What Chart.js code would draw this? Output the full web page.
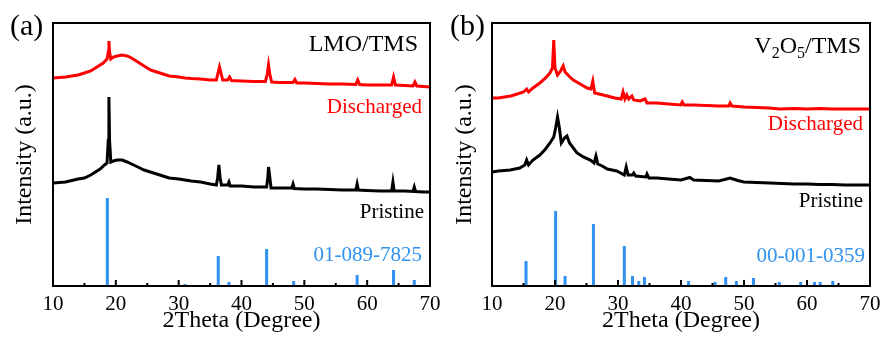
<!DOCTYPE html>
<html>
<head>
<meta charset="utf-8">
<script src="https://cdn.jsdelivr.net/npm/chart.js@4.4.0/dist/chart.umd.min.js"></script>
<style>
  html, body { margin: 0; padding: 0; background: #fff; }
  #wrap { position: relative; width: 881px; height: 338px; }
  #ca { position: absolute; left: 0; top: 0; }
  #cb { position: absolute; left: 440px; top: 0; }
</style>
</head>
<body>
<div id="wrap">
  <canvas id="ca" width="441" height="338"></canvas>
  <canvas id="cb" width="441" height="338"></canvas>
</div>
<script>
// ── Panel (a) : LMO/TMS ────────────────────────────────────────────────
const A_DIS_X = [10, 12, 14, 15, 16, 17, 18, 18.6, 18.8, 18.9, 19.0, 19.2, 19.6, 20.2, 21.0, 21.8, 22.5, 23.5, 24.5, 25.5, 26.5, 27.5, 28.5, 30, 31, 32, 33.5, 35, 36.0, 36.3, 36.5, 36.7, 37.0, 37.8, 38.1, 38.4, 40, 42, 43.8, 44.1, 44.3, 44.5, 44.8, 46, 48.2, 48.5, 48.8, 50, 52, 54, 56, 58.2, 58.5, 58.8, 60, 62, 63.9, 64.2, 64.5, 66, 67.3, 67.6, 67.9, 69, 70];
const A_DIS_Y = [208, 209, 211, 213, 215, 219, 223, 227, 234, 245, 234, 227, 229, 230, 231, 230, 228, 224, 220, 216, 214, 212, 210, 209, 208, 207.5, 207, 206, 206, 214, 219, 214, 206, 206, 209, 205.5, 205, 204.5, 204.5, 212, 221, 212, 204, 203.5, 203.5, 206.5, 203, 203, 202.5, 202, 202, 201.5, 206, 201.5, 201, 201, 201, 209, 201, 200.5, 200, 204, 200, 199.5, 199];

const A_PRI_X = [10, 12, 14, 15, 16, 17, 17.5, 18.2, 18.6, 18.8, 18.9, 19.0, 19.2, 19.6, 20.2, 21.0, 21.8, 22.5, 23.5, 24.5, 25.5, 26.5, 27.5, 28.5, 30, 31, 32, 33.5, 35, 36.0, 36.2, 36.4, 36.6, 36.8, 37.8, 38.0, 38.2, 40, 42, 44.0, 44.2, 44.3, 44.5, 44.7, 46, 48.0, 48.2, 48.4, 50, 52, 54, 56, 58.2, 58.4, 58.6, 60, 62, 63.9, 64.1, 64.3, 66, 67.3, 67.5, 67.7, 69, 70];
const A_PRI_Y = [103, 104, 107, 108, 111, 115, 117, 121, 123, 146, 189, 146, 124, 125, 126, 126, 124, 122, 119, 116, 114, 112, 110, 108, 107, 106, 105, 104, 102, 101, 108, 121, 108, 101, 101, 104, 100, 100, 99, 99, 109, 119, 109, 98, 98, 98, 102, 97.5, 97, 97, 96.5, 96, 96, 102, 96, 95.5, 95, 95, 104, 95, 95, 94.5, 99, 94.5, 94, 94];

const A_REF_X = [18.65, 31.0, 36.3, 38.0, 44.0, 48.3, 58.4, 64.2, 67.5];
const A_REF_Y = [88, 2, 30, 4, 37, 5, 11, 16, 6];

// ── Panel (b) : V2O5/TMS ───────────────────────────────────────────────
const B_DIS_X = [10, 11, 12, 13, 14, 15, 15.5, 15.8, 16.5, 17.6, 18.5, 19.2, 19.6, 19.8, 20.0, 20.4, 20.8, 21.3, 21.6, 22.2, 22.9, 24, 25.1, 25.7, 26.0, 26.3, 27, 28.3, 29.5, 30.5, 30.8, 31.1, 31.4, 31.7, 32.2, 32.5, 33.5, 34.3, 34.6, 36.2, 38, 40.0, 40.2, 40.5, 42, 44, 46, 47.6, 47.8, 48.1, 50, 52, 54, 55.7, 58, 60, 62, 64, 66, 68, 70];
const B_DIS_Y = [188, 188, 189, 190, 192, 194, 197, 194, 198, 203, 208, 213, 218, 246, 218, 211, 214, 220, 214, 210, 206, 202, 198, 197, 205, 193, 192, 190, 188, 187, 194, 187, 191, 187, 190, 186, 185, 187, 183, 183, 182, 181, 184, 181, 181, 180.5, 180, 180, 183, 180, 179, 178.5, 178, 177, 177.5, 177, 177.5, 177, 177, 177, 177];

const B_PRI_X = [10, 11, 12.9, 14.4, 15.2, 15.5, 15.8, 16.5, 17.6, 18.5, 19.2, 19.8, 20.1, 20.4, 20.7, 21.0, 21.5, 21.9, 22.3, 23.5, 24.5, 25.6, 26.2, 26.5, 26.8, 27.5, 28.3, 29.8, 31.0, 31.3, 31.6, 32.3, 32.5, 32.8, 34.4, 34.6, 34.9, 36.2, 38, 40, 41.4, 42, 44, 46, 47.8, 49, 50, 52, 54.1, 56, 58, 60, 62, 64, 66, 68, 70];
const B_PRI_Y = [114, 115, 116, 118, 121, 126, 121, 126, 131, 137, 143, 149, 158, 169, 158, 143, 148, 150, 143, 133, 129, 126, 123, 130, 122, 120, 117, 115, 111, 119, 111, 111, 113, 110, 109, 112, 108, 108, 107, 106, 108.5, 106, 105.5, 105, 108, 105.5, 104, 103.5, 103, 102.5, 102, 102, 101.5, 101.5, 101, 101, 101];

const B_REF_X = [15.4, 20.1, 21.6, 26.1, 31.0, 32.3, 33.3, 34.2, 41.2, 45.4, 47.1, 48.8, 51.5, 55.6, 59.0, 61.2, 62.1, 64.1];
const B_REF_Y = [25, 75, 10, 62, 40, 10, 5, 9, 5, 4, 9, 5, 8, 4, 4, 4, 4, 5];

const X_TICKS = [10, 20, 30, 40, 50, 60, 70];

const RED = '#ff0000';
const BLUE = '#2f92f0';
const SERIF = '"Liberation Serif", "Times New Roman", serif';

const toPts = (xs, ys) => xs.map((x, i) => ({ x, y: ys[i] }));
// bâtonnets de référence : segment vertical depuis 0, coupé par null
const toSticks = (xs, ys) => xs.flatMap((x, i) => [{ x, y: 0 }, { x, y: ys[i] }, { x, y: null }]);

// Cadre, petites graduations vers l'intérieur, annotations
function framePlugin(panel, labels) {
  return {
    id: 'frame' + panel,
    afterDraw(chart) {
      const { ctx, chartArea: a, scales } = chart;
      ctx.save();
      ctx.strokeStyle = '#000';
      ctx.lineWidth = 2;
      for (let v = 15; v < 70; v += 5) {
        const px = scales.x.getPixelForValue(v);
        const len = v % 10 === 0 ? 6 : 3;
        ctx.beginPath();
        ctx.moveTo(px, a.bottom);
        ctx.lineTo(px, a.bottom - len);
        ctx.stroke();
      }
      ctx.strokeRect(a.left, a.top, a.right - a.left, a.bottom - a.top);

      ctx.textBaseline = 'alphabetic';
      ctx.textAlign = 'left';
      ctx.fillStyle = '#000';
      ctx.font = '30px ' + SERIF;
      ctx.fillText('(' + panel + ')', labels.tagX, 35);

      ctx.textAlign = 'right';
      labels.items.forEach(t => {
        ctx.fillStyle = t.color;
        ctx.font = t.size + 'px ' + SERIF;
        if (t.parts) {
          // texte avec indices (V2O5)
          let x = t.x;
          for (let i = t.parts.length - 1; i >= 0; i--) {
            const p = t.parts[i];
            ctx.font = (p.sub ? 16 : t.size) + 'px ' + SERIF;
            ctx.fillText(p.s, x, t.y + (p.sub ? 5 : 0));
            x -= ctx.measureText(p.s).width;
          }
        } else {
          ctx.fillText(t.text, t.x, t.y);
        }
      });
      ctx.restore();
    },
  };
}

function makeChart(id, panel, dis, pri, ref, yWidth, pad, labels) {
  return new Chart(document.getElementById(id), {
    type: 'line',
    plugins: [framePlugin(panel, labels)],
    data: {
      datasets: [
        { data: dis, borderColor: RED, borderWidth: 3, pointRadius: 0, tension: 0 },
        { data: pri, borderColor: '#000', borderWidth: 3, pointRadius: 0, tension: 0 },
        { data: ref, borderColor: BLUE, borderWidth: 3, pointRadius: 0, tension: 0, spanGaps: false, borderCapStyle: 'butt' },
      ],
    },
    options: {
      responsive: false,
      animation: false,
      layout: { padding: pad },
      plugins: { legend: { display: false }, tooltip: { enabled: false } },
      scales: {
        x: {
          type: 'linear',
          min: 10,
          max: 70,
          grid: { display: false, drawTicks: false },
          border: { display: false },
          afterBuildTicks: s => { s.ticks = X_TICKS.map(v => ({ value: v })); },
          afterFit: s => { s.height = 52; s.paddingLeft = 0; s.paddingRight = 0; },
          ticks: { color: '#000', font: { family: SERIF, size: 21 }, padding: 6, maxRotation: 0, autoSkip: false },
          title: { display: true, text: '2Theta (Degree)', color: '#000', font: { family: SERIF, size: 24 }, padding: { top: 0, bottom: 3 } },
        },
        y: {
          min: 0,
          max: 263,
          grid: { display: false, drawTicks: false },
          border: { display: false },
          ticks: { display: false },
          afterFit: s => { s.width = yWidth; s.paddingTop = 0; s.paddingBottom = 0; },
          title: { display: true, text: 'Intensity (a.u.)', color: '#000', font: { family: SERIF, size: 24 }, padding: { top: 10, bottom: 0 } },
        },
      },
    },
  });
}

makeChart('ca', 'a',
  toPts(A_DIS_X, A_DIS_Y), toPts(A_PRI_X, A_PRI_Y), toSticks(A_REF_X, A_REF_Y),
  53, { top: 23, right: 11, left: 0, bottom: 0 },
  {
    tagX: 10,
    items: [
      { text: 'LMO/TMS', x: 418, y: 51, size: 24, color: '#000' },
      { text: 'Discharged', x: 422, y: 113, size: 21, color: RED },
      { text: 'Pristine', x: 424, y: 218, size: 21, color: '#000' },
      { text: '01-089-7825', x: 422, y: 261, size: 21, color: BLUE },
    ],
  });

makeChart('cb', 'b',
  toPts(B_DIS_X, B_DIS_Y), toPts(B_PRI_X, B_PRI_Y), toSticks(B_REF_X, B_REF_Y),
  52, { top: 23, right: 11, left: 0, bottom: 0 },
  {
    tagX: 10,
    items: [
      { parts: [{ s: 'V' }, { s: '2', sub: true }, { s: 'O' }, { s: '5', sub: true }, { s: '/TMS' }], x: 421, y: 53, size: 24, color: '#000' },
      { text: 'Discharged', x: 423, y: 130, size: 21, color: RED },
      { text: 'Pristine', x: 423, y: 207, size: 21, color: '#000' },
      { text: '00-001-0359', x: 425, y: 262, size: 21, color: BLUE },
    ],
  });
</script>
</body>
</html>
